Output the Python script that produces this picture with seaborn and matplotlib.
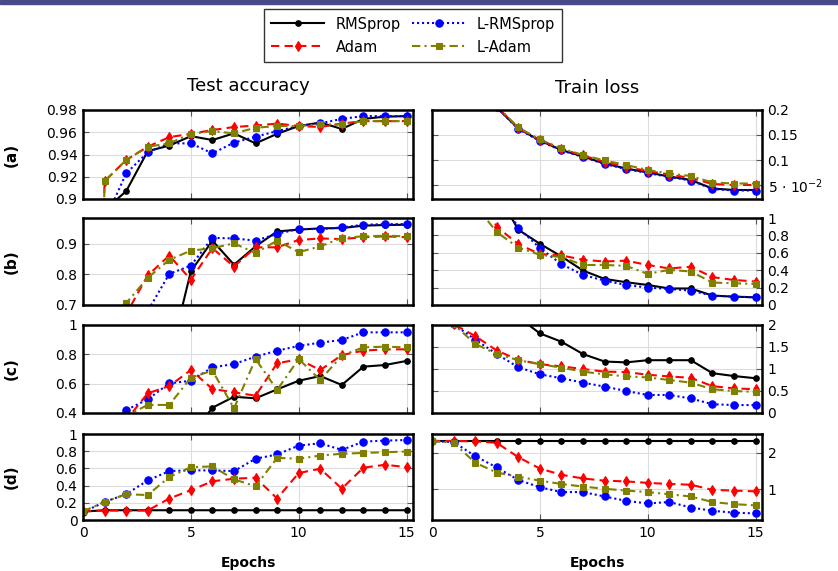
import matplotlib
matplotlib.use('Agg')
import matplotlib.pyplot as plt
import seaborn as sns
import numpy as np
from matplotlib.patches import Rectangle

epochs = list(range(16))
row_tags = ['(a)', '(b)', '(c)', '(d)']

# test accuracy
acc_a_rms = [0.10, 0.89, 0.907, 0.943, 0.948, 0.9565, 0.953, 0.959, 0.950, 0.9586, 0.9656, 0.9687, 0.963, 0.972, 0.974, 0.9745]
acc_a_lrms = [0.10, 0.88, 0.923, 0.942, 0.950, 0.950, 0.941, 0.9507, 0.956, 0.961, 0.9656, 0.968, 0.972, 0.9745, 0.9745, 0.9745]
acc_a_adam = [0.10, 0.916, 0.935, 0.947, 0.9556, 0.9586, 0.962, 0.9647, 0.966, 0.9678, 0.9656, 0.9647, 0.9678, 0.970, 0.970, 0.970]
acc_a_ladam = [0.10, 0.916, 0.935, 0.947, 0.950, 0.9586, 0.961, 0.959, 0.964, 0.9656, 0.9656, 0.967, 0.967, 0.970, 0.970, 0.970]

acc_b_rms = [0.10, 0.11, 0.11, 0.20, 0.52, 0.81, 0.911, 0.832, 0.892, 0.941, 0.947, 0.951, 0.952, 0.960, 0.962, 0.963]
acc_b_lrms = [0.10, 0.30, 0.50, 0.68, 0.802, 0.829, 0.920, 0.918, 0.911, 0.933, 0.949, 0.949, 0.954, 0.963, 0.965, 0.965]
acc_b_adam = [0.10, 0.40, 0.67, 0.797, 0.862, 0.783, 0.886, 0.826, 0.889, 0.889, 0.913, 0.918, 0.916, 0.922, 0.925, 0.922]
acc_b_ladam = [0.10, 0.45, 0.706, 0.789, 0.848, 0.878, 0.886, 0.902, 0.870, 0.911, 0.873, 0.892, 0.920, 0.925, 0.927, 0.925]

acc_c_rms = [0.10, 0.10, 0.11, 0.11, 0.15, 0.24, 0.436, 0.511, 0.50, 0.561, 0.62, 0.652, 0.591, 0.716, 0.727, 0.755]
acc_c_lrms = [0.10, 0.30, 0.42, 0.493, 0.602, 0.62, 0.711, 0.734, 0.784, 0.825, 0.857, 0.88, 0.898, 0.95, 0.95, 0.95]
acc_c_adam = [0.10, 0.25, 0.352, 0.534, 0.584, 0.693, 0.564, 0.541, 0.518, 0.739, 0.766, 0.693, 0.795, 0.825, 0.834, 0.834]
acc_c_ladam = [0.10, 0.25, 0.38, 0.455, 0.455, 0.641, 0.689, 0.432, 0.768, 0.557, 0.768, 0.625, 0.791, 0.848, 0.852, 0.848]

acc_d_rms = [0.098, 0.1135, 0.1135, 0.1135, 0.1135, 0.1135, 0.1135, 0.1135, 0.1135, 0.1135, 0.1135, 0.1135, 0.1135, 0.1135, 0.1135, 0.1135]
acc_d_lrms = [0.09, 0.21, 0.30, 0.46, 0.569, 0.577, 0.577, 0.569, 0.712, 0.762, 0.865, 0.892, 0.815, 0.912, 0.923, 0.93]
acc_d_adam = [0.10, 0.11, 0.11, 0.11, 0.25, 0.346, 0.45, 0.48, 0.492, 0.25, 0.546, 0.596, 0.365, 0.608, 0.642, 0.615]
acc_d_ladam = [0.10, 0.21, 0.30, 0.29, 0.50, 0.615, 0.623, 0.473, 0.392, 0.723, 0.712, 0.75, 0.77, 0.78, 0.788, 0.796]

# train loss
loss_a_rms = [2.30, 0.50, 0.28, 0.205, 0.163, 0.139, 0.120, 0.107, 0.093, 0.083, 0.075, 0.067, 0.060, 0.043, 0.040, 0.040]
loss_a_lrms = [2.30, 0.50, 0.28, 0.205, 0.162, 0.138, 0.119, 0.106, 0.092, 0.082, 0.074, 0.066, 0.059, 0.042, 0.039, 0.039]
loss_a_adam = [2.30, 0.50, 0.28, 0.207, 0.164, 0.140, 0.122, 0.109, 0.096, 0.086, 0.078, 0.071, 0.064, 0.052, 0.050, 0.050]
loss_a_ladam = [2.30, 0.50, 0.28, 0.208, 0.165, 0.141, 0.123, 0.110, 0.099, 0.090, 0.080, 0.073, 0.068, 0.055, 0.053, 0.053]

loss_b_rms = [2.30, 2.10, 1.80, 1.30, 0.865, 0.704, 0.558, 0.396, 0.30, 0.262, 0.23, 0.19, 0.19, 0.108, 0.096, 0.088]
loss_b_lrms = [2.30, 2.10, 1.80, 1.30, 0.89, 0.654, 0.47, 0.346, 0.28, 0.23, 0.20, 0.185, 0.165, 0.108, 0.096, 0.088]
loss_b_adam = [2.30, 2.00, 1.40, 0.90, 0.70, 0.585, 0.57, 0.52, 0.50, 0.51, 0.46, 0.42, 0.44, 0.32, 0.288, 0.27]
loss_b_ladam = [2.30, 2.00, 1.15, 0.838, 0.66, 0.577, 0.55, 0.46, 0.46, 0.45, 0.358, 0.404, 0.385, 0.258, 0.25, 0.242]

loss_c_rms = [2.30, 2.30, 2.30, 2.29, 2.18, 1.81, 1.62, 1.34, 1.17, 1.15, 1.20, 1.20, 1.20, 0.905, 0.84, 0.79]
loss_c_lrms = [2.30, 2.02, 1.67, 1.34, 1.04, 0.88, 0.79, 0.69, 0.60, 0.50, 0.41, 0.41, 0.33, 0.20, 0.18, 0.18]
loss_c_adam = [2.30, 2.02, 1.75, 1.42, 1.21, 1.11, 1.06, 1.00, 0.94, 0.93, 0.87, 0.83, 0.80, 0.61, 0.56, 0.54]
loss_c_ladam = [2.30, 2.02, 1.57, 1.34, 1.20, 1.11, 1.03, 0.94, 0.88, 0.83, 0.81, 0.75, 0.69, 0.54, 0.50, 0.48]

loss_d_rms = [2.32, 2.32, 2.32, 2.32, 2.32, 2.32, 2.32, 2.32, 2.32, 2.32, 2.32, 2.32, 2.32, 2.32, 2.32, 2.32]
loss_d_lrms = [2.32, 2.29, 1.91, 1.60, 1.26, 1.06, 0.93, 0.93, 0.81, 0.69, 0.62, 0.66, 0.51, 0.42, 0.37, 0.35]
loss_d_adam = [2.32, 2.32, 2.31, 2.27, 1.88, 1.57, 1.40, 1.30, 1.24, 1.22, 1.18, 1.15, 1.13, 0.99, 0.97, 0.95]
loss_d_ladam = [2.32, 2.27, 1.73, 1.46, 1.35, 1.24, 1.15, 1.08, 1.02, 0.97, 0.93, 0.87, 0.81, 0.66, 0.60, 0.57]

acc_rows = [
    {'RMSprop': acc_a_rms, 'L-RMSprop': acc_a_lrms, 'Adam': acc_a_adam, 'L-Adam': acc_a_ladam},
    {'RMSprop': acc_b_rms, 'L-RMSprop': acc_b_lrms, 'Adam': acc_b_adam, 'L-Adam': acc_b_ladam},
    {'RMSprop': acc_c_rms, 'L-RMSprop': acc_c_lrms, 'Adam': acc_c_adam, 'L-Adam': acc_c_ladam},
    {'RMSprop': acc_d_rms, 'L-RMSprop': acc_d_lrms, 'Adam': acc_d_adam, 'L-Adam': acc_d_ladam},
]
loss_rows = [
    {'RMSprop': loss_a_rms, 'L-RMSprop': loss_a_lrms, 'Adam': loss_a_adam, 'L-Adam': loss_a_ladam},
    {'RMSprop': loss_b_rms, 'L-RMSprop': loss_b_lrms, 'Adam': loss_b_adam, 'L-Adam': loss_b_ladam},
    {'RMSprop': loss_c_rms, 'L-RMSprop': loss_c_lrms, 'Adam': loss_c_adam, 'L-Adam': loss_c_ladam},
    {'RMSprop': loss_d_rms, 'L-RMSprop': loss_d_lrms, 'Adam': loss_d_adam, 'L-Adam': loss_d_ladam},
]

acc_ylims = [(0.9, 0.98), (0.7, 0.985), (0.4, 1.0), (0.0, 1.0)]
acc_yticks = [[0.9, 0.92, 0.94, 0.96, 0.98], [0.7, 0.8, 0.9], [0.4, 0.6, 0.8, 1.0], [0, 0.2, 0.4, 0.6, 0.8, 1.0]]
acc_yticklabels = [['0.9', '0.92', '0.94', '0.96', '0.98'], ['0.7', '0.8', '0.9'],
                   ['0.4', '0.6', '0.8', '1'], ['0', '0.2', '0.4', '0.6', '0.8', '1']]
loss_ylims = [(0.022, 0.2), (0.0, 1.0), (0.0, 2.0), (0.17, 2.51)]
loss_yticks = [[0.05, 0.1, 0.15, 0.2], [0, 0.2, 0.4, 0.6, 0.8, 1.0], [0, 0.5, 1.0, 1.5, 2.0], [1, 2]]
loss_yticklabels = [[r'5 $\cdot$ 10$^{-2}$', '0.1', '0.15', '0.2'], ['0', '0.2', '0.4', '0.6', '0.8', '1'],
                    ['0', '0.5', '1', '1.5', '2'], ['1', '2']]

styles = {
    'RMSprop': dict(color='black', linestyle='-', marker='o', markersize=4),
    'L-RMSprop': dict(color='blue', linestyle=(0, (1, 1.4)), marker='o', markersize=5.3),
    'Adam': dict(color='red', linestyle=(0, (4, 2.5)), marker='d', markersize=5.3),
    'L-Adam': dict(color='#808000', linestyle=(0, (4, 2, 1, 2)), marker='s', markersize=5),
}
order = ['RMSprop', 'L-RMSprop', 'Adam', 'L-Adam']

plt.rcParams['font.family'] = ['DejaVu Sans']
fig = plt.figure(figsize=(8.38, 5.71), dpi=100)

# rows in pixels (top, bottom)
rows_px = [(110, 199), (218, 305), (325, 413), (434, 520)]
W, H = 838.0, 571.0
col_left = [83, 432]
col_w = 330


def style_ax(ax, right=False):
    ax.set_xlim(0, 15.3)
    ax.set_xticks([0, 5, 10, 15])
    ax.grid(True, color='#dddddd', linewidth=0.8)
    ax.set_axisbelow(True)
    ax.tick_params(direction='in', length=4, color='#555555', top=True, bottom=True,
                   left=True, right=True, labelsize=10, pad=4)
    for s in ax.spines.values():
        s.set_linewidth(1.8)
        s.set_color('black')
    if right:
        ax.yaxis.tick_right()
        ax.tick_params(axis='y', left=True, right=True, direction='in')
    ax.set_xlabel('')
    ax.set_ylabel('')


axes = []
for r in range(4):
    top, bot = rows_px[r]
    rect_l = [col_left[0] / W, 1 - bot / H, col_w / W, (bot - top) / H]
    rect_r = [col_left[1] / W, 1 - bot / H, col_w / W, (bot - top) / H]
    axl = fig.add_axes(rect_l)
    axr = fig.add_axes(rect_r)
    for name in order:
        st = styles[name]
        sns.lineplot(x=epochs, y=acc_rows[r][name], ax=axl, label=name, legend=False,
                     linewidth=1.5, markeredgecolor=st['color'], markeredgewidth=0.8, **st)
        sns.lineplot(x=epochs, y=loss_rows[r][name], ax=axr, label=name, legend=False,
                     linewidth=1.5, markeredgecolor=st['color'], markeredgewidth=0.8, **st)
    style_ax(axl)
    style_ax(axr, right=True)
    axl.set_ylim(*acc_ylims[r])
    axl.set_yticks(acc_yticks[r])
    axl.set_yticklabels(acc_yticklabels[r])
    axr.set_ylim(*loss_ylims[r])
    axr.set_yticks(loss_yticks[r])
    axr.set_yticklabels(loss_yticklabels[r])
    axl.set_ylabel(row_tags[r], fontsize=11, fontweight='bold')
    axl.yaxis.set_label_coords(-0.195, 0.5)
    if r < 3:
        axl.set_xticklabels([])
        axr.set_xticklabels([])
    else:
        axl.set_xlabel('Epochs', fontsize=10, fontweight='bold', labelpad=12)
        axr.set_xlabel('Epochs', fontsize=10, fontweight='bold', labelpad=12)
    if r == 0:
        axl.set_title('Test accuracy', fontsize=13, pad=14)
        axr.set_title('Train loss', fontsize=13, pad=12)
    axes.append((axl, axr))

handles, labels = axes[0][0].get_legend_handles_labels()
hmap = dict(zip(labels, handles))
leg_order = ['RMSprop', 'Adam', 'L-RMSprop', 'L-Adam']
leg = fig.legend([hmap[k] for k in leg_order], leg_order, loc='upper center',
                 bbox_to_anchor=(413 / W, 1 - 2 / H), ncol=2, fontsize=10.5,
                 frameon=True, fancybox=False, edgecolor='black', handlelength=3.6,
                 columnspacing=0.8, handletextpad=0.8, borderpad=0.5, labelspacing=0.55)
leg.get_frame().set_linewidth(1.0)

# slide header strip
fig.add_artist(Rectangle((0, 1 - 4 / H), 1, 4 / H, transform=fig.transFigure,
                         color='#4a4a8a', zorder=0))

plt.savefig('out.png', dpi=100)
plt.close()
